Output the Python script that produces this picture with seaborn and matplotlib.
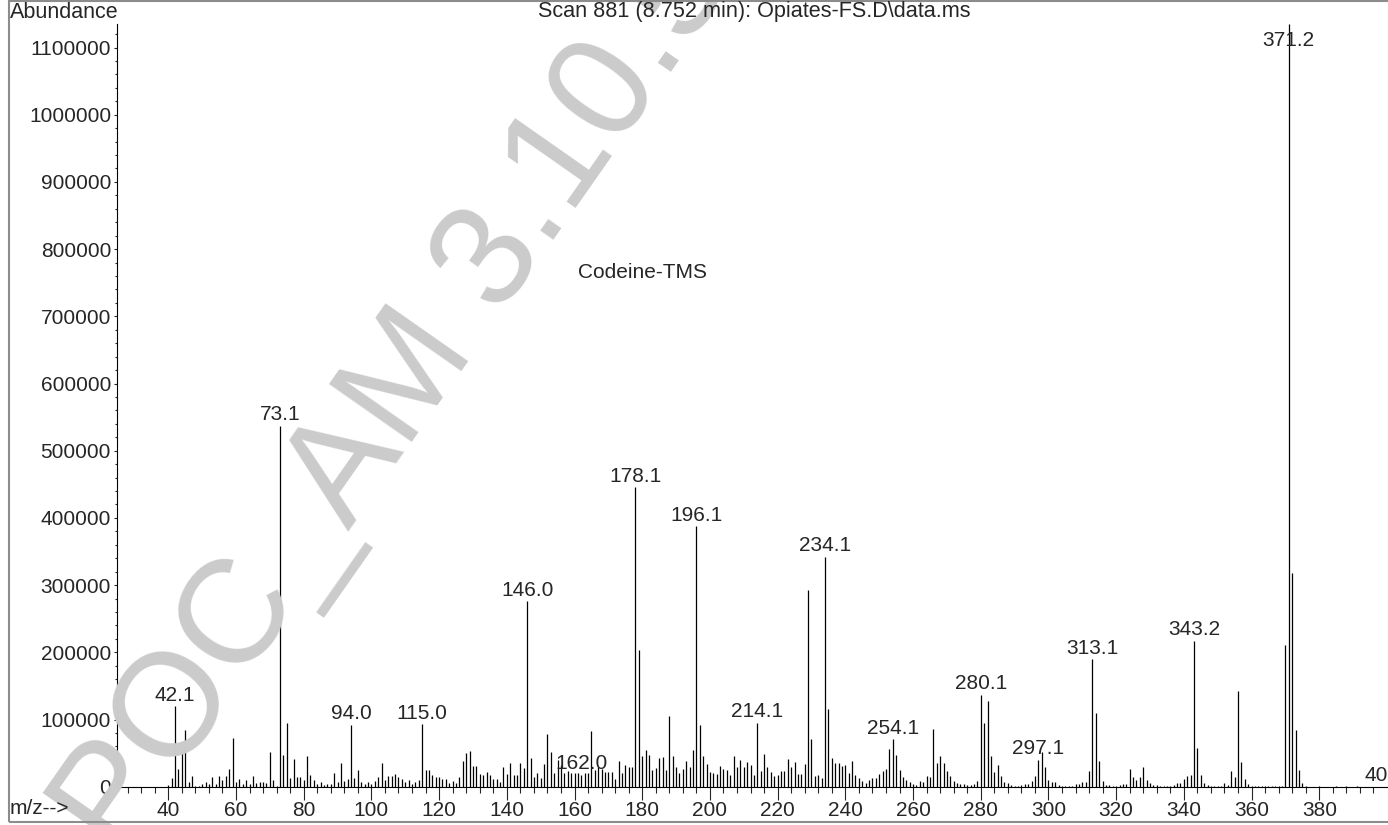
import numpy as np
import matplotlib
matplotlib.use("Agg")
import matplotlib.pyplot as plt
import seaborn as sns
from matplotlib.ticker import FixedLocator, FuncFormatter
from matplotlib.patches import Rectangle

# spectrum: m/z (integer nominal mass) and abundance
mz = list(range(40, 377)) + [380, 385, 388, 391, 401]
abundance = [
    3000, 13000, 120000, 27000, 60000, 84000, 6500, 16000, 1500, 1500,          # 40-49
    3500, 7000, 4500, 14000, 4500, 16000, 10000, 16000, 26000, 73000,           # 50-59
    6500, 11000, 3500, 9500, 4000, 16000, 5500, 7500, 7500, 5500,               # 60-69
    51500, 10000, 1500, 537000, 47500, 95000, 13000, 41500, 14000, 14000,       # 70-79
    10000, 46000, 18000, 10000, 4500, 6500, 2500, 4000, 3500, 20000,            # 80-89
    6500, 35000, 8500, 11000, 92000, 13000, 25000, 6500, 4500, 6500,            # 90-99
    4500, 8500, 15000, 36000, 9500, 16000, 15500, 19000, 14000, 12000,          # 100-109
    7500, 9500, 4000, 7500, 10000, 93000, 25000, 25000, 18000, 14000,           # 110-119
    14000, 11500, 11500, 5500, 8500, 5500, 14500, 38500, 50000, 52500,          # 120-129
    31000, 31000, 19000, 18000, 22000, 18000, 11500, 11500, 7500, 30000,        # 130-139
    19000, 36000, 18000, 17000, 36000, 28000, 276000, 42000, 14500, 20000,      # 140-149
    13500, 34000, 79000, 51500, 20000, 40000, 32000, 20000, 24000, 20000,       # 150-159
    20000, 20000, 18000, 21000, 20000, 83000, 25000, 30000, 27000, 22000,       # 160-169
    22000, 22000, 11000, 38000, 21000, 32000, 29000, 30000, 446000, 204000,     # 170-179
    45000, 55000, 47000, 25000, 28000, 43000, 44000, 25000, 105000, 46000,      # 180-189
    30000, 20000, 27000, 38000, 30000, 55000, 388000, 92000, 45000, 34000,      # 190-199
    22000, 21000, 19000, 31000, 26000, 25000, 17000, 45000, 29000, 39000,       # 200-209
    29000, 37000, 32000, 17000, 95000, 24000, 49000, 30000, 22000, 15500,       # 210-219
    17000, 24000, 24000, 41500, 29000, 37500, 19000, 19000, 33500, 293000,      # 220-229
    71000, 16000, 18000, 13000, 342000, 115000, 43000, 35000, 35500, 31500,     # 230-239
    32000, 21000, 38500, 18000, 13500, 8500, 5500, 9500, 12500, 13500,          # 240-249
    19000, 24000, 26000, 56500, 71000, 47500, 25000, 14500, 9500, 7500,         # 250-259
    3500, 3000, 8500, 7000, 16000, 15000, 86000, 36000, 45000, 35000,           # 260-269
    24000, 16000, 9000, 5500, 4000, 3500, 3000, 2000, 3500, 8500,               # 270-279
    137000, 95000, 127000, 45500, 22000, 33000, 15500, 7500, 6000, 2000,        # 280-289
    1500, 1500, 2000, 3500, 4500, 9000, 15500, 40000, 51000, 29000,             # 290-299
    10500, 7500, 6500, 2500, 1500, 1500, 1500, 1500, 3500, 4500,                # 300-309
    7500, 7500, 24000, 190000, 110000, 38500, 9000, 3000, 2000, 1500,           # 310-319
    1500, 2500, 3500, 3500, 27000, 15000, 9500, 14500, 29000, 10000,            # 320-329
    5000, 3000, 2000, 1500, 1500, 1500, 1500, 2500, 6000, 6000,                 # 330-339
    12000, 15500, 18000, 217000, 58000, 17000, 5500, 2500, 1000, 1000,          # 340-349
    1000, 1000, 6000, 3000, 23000, 15000, 143000, 37000, 11500, 4000,           # 350-359
    1500, 1000, 1000, 1000, 1000, 1000, 1000, 1000, 1000, 1000,                 # 360-369
    211000, 1135000, 318000, 85000, 25000, 5000, 1500,                          # 370-376
    800, 800, 800, 800, 1200,                                                   # 380-401 noise
]

label_mz = [42, 73, 94, 115, 146, 162, 178, 196, 214, 234, 254, 280, 297, 313, 343, 371, 401]
label_text = ["42.1", "73.1", "94.0", "115.0", "146.0", "162.0", "178.1", "196.1", "214.1",
              "234.1", "254.1", "280.1", "297.1", "313.1", "343.2", "371.2", "401.2"]
x_major = list(range(40, 381, 20))
x_minor = [v for v in range(28, 400, 4) if v % 20 != 0]
y_major = list(range(0, 1100001, 100000))
y_minor = [v for v in range(0, 1120001, 20000) if v % 100000 != 0]

sns.set_theme(style="white")
plt.rcParams["font.family"] = ["Liberation Sans", "DejaVu Sans"]
FS = 15

fig = plt.figure(figsize=(13.88, 8.25), dpi=100)
W, H = 1388, 825
ax = fig.add_axes([117 / W, 1 - 786.7 / H, 1 - 117 / W, (786.7 - 24) / H])

# watermark behind everything (anchored at the baseline start)
fig.text(119 / W, 1 - 860 / H, "POC_AM 3.10.5", rotation=55, fontsize=106, color="#cbcbcb",
         ha="left", va="baseline", zorder=0, rotation_mode="anchor")

ax.set_facecolor("none")
ax.vlines(mz, 0, abundance, colors="black", linewidth=0.9)

ymax = 1135000
ax.set_xlim(24.85, 400.3)
ax.set_ylim(0, ymax)
sns.despine(ax=ax)
for s in ("left", "bottom"):
    ax.spines[s].set_color("black")
    ax.spines[s].set_linewidth(0.8)

height = dict(zip(mz, abundance))
for m, t in zip(label_mz, label_text):
    h = height[m]
    if h >= ymax:
        ax.annotate(t, (m, h), xytext=(0, -5), textcoords="offset points",
                    ha="center", va="top", fontsize=FS, annotation_clip=False)
    else:
        ax.annotate(t, (m, h), xytext=(0, 1), textcoords="offset points",
                    ha="center", va="bottom", fontsize=FS, annotation_clip=False)

ax.text(180, 765000, "Codeine-TMS", ha="center", va="center", fontsize=FS)

ax.xaxis.set_major_locator(FixedLocator(x_major))
ax.xaxis.set_minor_locator(FixedLocator(x_minor))
ax.yaxis.set_major_locator(FixedLocator(y_major))
ax.yaxis.set_minor_locator(FixedLocator(y_minor))
ax.yaxis.set_major_formatter(FuncFormatter(lambda v, _: f"{int(round(v))}"))
ax.tick_params(axis="x", which="major", direction="out", length=9, width=0.8,
               pad=1, labelsize=FS, bottom=True)
ax.tick_params(axis="x", which="minor", direction="out", length=4.5, width=0.8, bottom=True)
ax.tick_params(axis="y", which="major", direction="out", length=2.5, width=0.8,
               pad=1.8, labelsize=FS, left=True)
ax.tick_params(axis="y", which="minor", direction="out", length=1.3, width=0.8, left=True)

fig.text(10 / W, 1 - 12 / H, "Abundance", ha="left", va="center", fontsize=15.5)
fig.text(754 / W, 1 - 12 / H, "Scan 881 (8.752 min): Opiates-FS.D\\data.ms",
         ha="center", va="center", fontsize=15.6)
fig.text(10 / W, 1 - 808 / H, "m/z-->", ha="left", va="center", fontsize=FS)

# gray frame around the page
fig.add_artist(Rectangle((9 / W, 1 - 822 / H), 1.2, (822 - 0.5) / H, transform=fig.transFigure,
                         fill=False, edgecolor="#8c8c8c", linewidth=1.5))

fig.savefig("out.png", dpi=100)
